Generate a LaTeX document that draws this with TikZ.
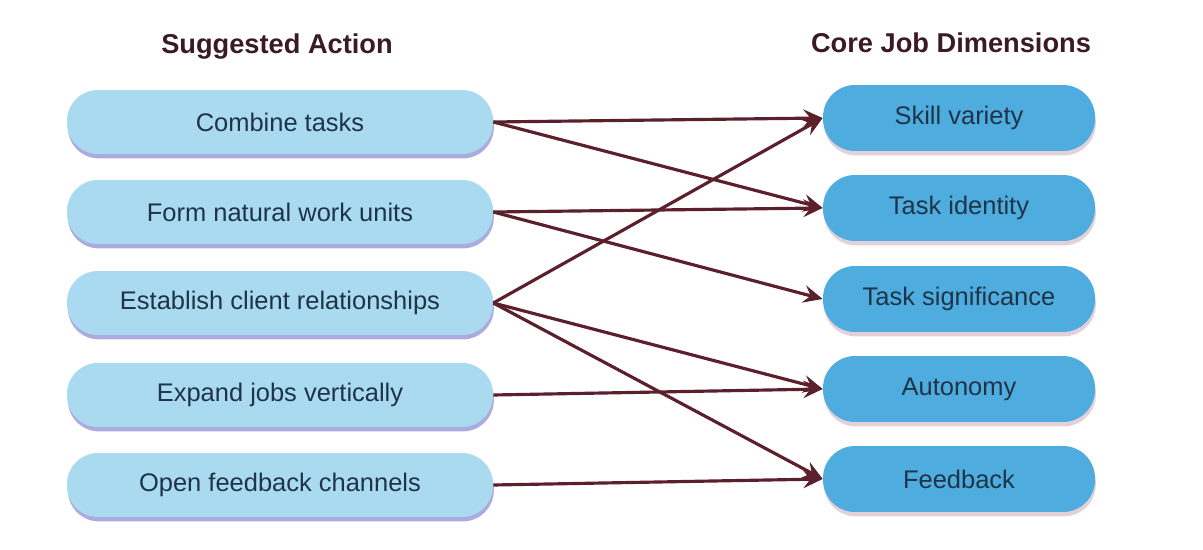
\documentclass[tikz,border=0pt]{standalone}
\usepackage{fontspec}
\setmainfont{Liberation Sans}
\usepackage{tikz}
\usetikzlibrary{arrows.meta,shapes,positioning,shadows}
\definecolor{actionblue}{RGB}{170,218,240}
\definecolor{coreblue}{RGB}{78,172,222}
\definecolor{arrowred}{RGB}{92,32,44}
\definecolor{textnavy}{RGB}{30,52,72}
\definecolor{headdark}{RGB}{58,26,36}

\begin{document}
\begin{tikzpicture}[x=0.02cm,y=-0.02cm,
    action/.style={rounded corners=0.62cm, fill=actionblue, minimum width=8.52cm,
      minimum height=1.28cm, text=textnavy, font=\fontsize{14.5}{17}\selectfont,
      drop shadow={fill=blue!45!gray, opacity=0.45, shadow xshift=0.5pt, shadow yshift=-2.5pt}},
    core/.style={rounded corners=0.64cm, fill=coreblue, minimum width=5.44cm,
      minimum height=1.32cm, text=textnavy, font=\fontsize{14.5}{17}\selectfont,
      drop shadow={fill=magenta!30!gray, opacity=0.35, shadow xshift=0.5pt, shadow yshift=-2.5pt}},
    heading/.style={text=headdark, font=\fontsize{15.5}{18}\selectfont\bfseries},
    link/.style={draw=arrowred, line width=1.8pt, -{Stealth[length=11pt,width=10pt,inset=4pt]}}]
      \useasboundingbox (0,0) rectangle (1203,550);
      \fill[white] (0,0) rectangle (1203,550);
      % headings
      \node[heading] (acthead) at (277,47) {Suggested Action};
      \node[heading] (corehead) at (951,43) {Core Job Dimensions};
      % suggested actions
      \node[action] (combine) at (280,122) {Combine tasks};
      \node[action] (form) at (280,212) {Form natural work units};
      \node[action] (client) at (280,303) {Establish client relationships};
      \node[action] (expand) at (280,395) {Expand jobs vertically};
      \node[action] (channels) at (280,485) {Open feedback channels};
      % core job dimensions
      \node[core] (skill) at (959,118) {Skill variety};
      \node[core] (identity) at (959,208) {Task identity};
      \node[core] (significance) at (959,299) {Task significance};
      \node[core] (autonomy) at (959,389) {Autonomy};
      \node[core] (feedback) at (959,479) {Feedback};
      % links
      \draw[link] (combine.east) -- (skill.west);
      \draw[link] (combine.east) -- (identity.west);
      \draw[link] (form.east) -- (identity.west);
      \draw[link] (form.east) -- (significance.west);
      \draw[link] (client.east) -- (skill.west);
      \draw[link] (client.east) -- (autonomy.west);
      \draw[link] (client.east) -- (feedback.west);
      \draw[link] (expand.east) -- (autonomy.west);
      \draw[link] (channels.east) -- (feedback.west);
    \end{tikzpicture}
\end{document}
